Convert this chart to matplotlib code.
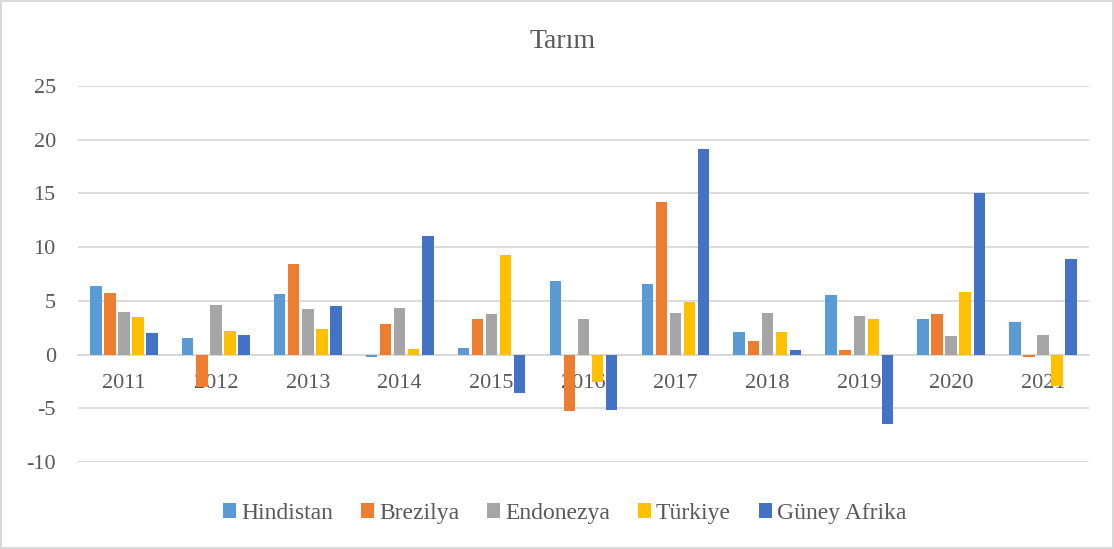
import matplotlib
matplotlib.use("Agg")
import matplotlib.pyplot as plt
import numpy as np
from matplotlib.patches import Patch

plt.rcParams['font.family'] = ['Liberation Serif', 'DejaVu Serif']
plt.rcParams['axes.unicode_minus'] = False

years = ['2011', '2012', '2013', '2014', '2015', '2016', '2017', '2018', '2019', '2020', '2021']
series_names = ['Hindistan', 'Brezilya', 'Endonezya', 'Türkiye', 'Güney Afrika']
hindistan = [6.4, 1.5, 5.6, -0.2, 0.65, 6.8, 6.6, 2.1, 5.5, 3.3, 3.0]
brezilya = [5.7, -3.0, 8.4, 2.8, 3.3, -5.25, 14.2, 1.3, 0.4, 3.75, -0.2]
endonezya = [4.0, 4.6, 4.2, 4.3, 3.75, 3.35, 3.9, 3.9, 3.6, 1.75, 1.8]
turkiye = [3.5, 2.2, 2.4, 0.5, 9.3, -2.6, 4.9, 2.1, 3.3, 5.8, -2.95]
guney_afrika = [2.0, 1.8, 4.5, 11.0, -3.6, -5.2, 19.1, 0.45, -6.45, 15.0, 8.85]
values = [hindistan, brezilya, endonezya, turkiye, guney_afrika]
colors = ['#5B9BD5', '#ED7D31', '#A5A5A5', '#FFC000', '#4472C4']
text_color = '#595959'
grid_color = '#D9D9D9'

fig = plt.figure(figsize=(11.14, 5.49), dpi=100)
fig.patch.set_facecolor('white')
fig.patch.set_edgecolor(grid_color)
fig.patch.set_linewidth(1.5)
ax = fig.add_axes([0.070, 0.1585, 0.9076, 0.6849])

x = np.arange(len(years))
pitch = 0.153
bw = 0.125
for i, (vals, c) in enumerate(zip(values, colors)):
    ax.bar(x + (i - 2) * pitch, vals, width=bw, color=c, zorder=3, label=series_names[i])

ax.set_xlim(-0.5, len(years) - 0.5)
ax.set_ylim(-10, 25)
ax.set_yticks(np.arange(-10, 26, 5))
ax.grid(axis='y', color=grid_color, linewidth=1.3, zorder=0)
for s in ['top', 'right', 'left']:
    ax.spines[s].set_visible(False)
ax.spines['bottom'].set_position(('data', 0))
ax.spines['bottom'].set_color(grid_color)
ax.spines['bottom'].set_linewidth(1.3)
ax.spines['bottom'].set_zorder(2)
ax.set_xticks(x)
ax.set_xticklabels(years)
ax.tick_params(axis='x', length=0, pad=14, labelsize=16, labelcolor=text_color)
ax.tick_params(axis='y', length=0, pad=16, labelsize=16, labelcolor=text_color)

fig.text(0.505, 0.925, 'Tarım', ha='center', va='center', fontsize=20, color=text_color)

handles = [Patch(facecolor=c, label=n) for c, n in zip(colors, series_names)]
fig.legend(handles=handles, loc='center', bbox_to_anchor=(0.507, 0.065), ncol=5, frameon=False,
           fontsize=17, labelcolor=text_color, handlelength=0.55, handleheight=0.55,
           handletextpad=0.2, columnspacing=1.2)

fig.savefig('out.png', dpi=100, facecolor=fig.get_facecolor(), edgecolor=fig.get_edgecolor())
